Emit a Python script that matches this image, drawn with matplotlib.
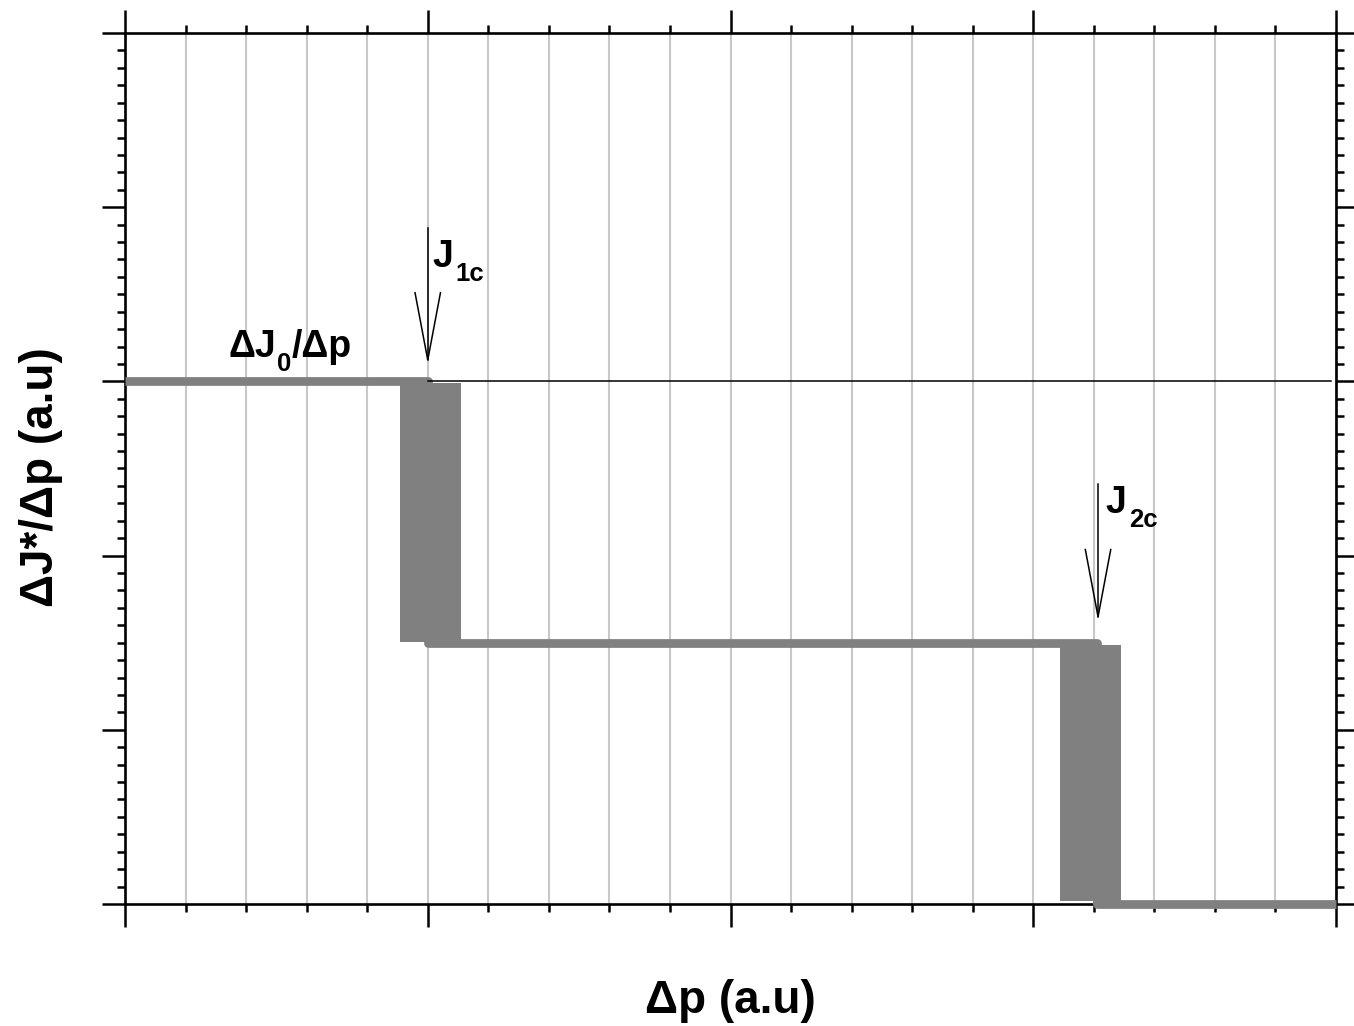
import matplotlib
matplotlib.use("Agg")
import matplotlib.pyplot as plt
from matplotlib.ticker import MultipleLocator
from matplotlib.patches import Rectangle

plt.rcParams['font.family'] = ['Liberation Sans', 'DejaVu Sans']

# ---- data ----
step_x = [0.0, 1.0, 1.0, 3.21, 3.21, 4.0]
step_y = [3.0, 3.0, 1.5, 1.5, 0.0, 0.0]
# transition bands (x0, x1, y0, y1)
band1 = (0.908, 1.110, 1.506, 2.989)
band2 = (3.088, 3.290, 0.02, 1.487)
ref_level = 3.0
ref_x = (1.0, 3.985)
# critical points: x, arrow top, arrow tip
j1c = (1.0, 3.88, 3.123)
j2c = (3.214, 2.411, 1.649)
xlim = (0, 4)
ylim = (0, 5)

gray = '#808080'
W, H = 1354, 1026

fig = plt.figure(figsize=(13.54, 10.26), dpi=100)
ax = fig.add_axes([125/W, 1-904/H, (1336-125)/W, (904-33)/H])
ax.set_xlim(*xlim)
ax.set_ylim(*ylim)

ax.xaxis.set_major_locator(MultipleLocator(1))
ax.xaxis.set_minor_locator(MultipleLocator(0.2))
ax.yaxis.set_major_locator(MultipleLocator(1))
ax.yaxis.set_minor_locator(MultipleLocator(0.1))
ax.tick_params(which='major', direction='out', length=16.5, width=1.8,
               top=True, right=True, labelbottom=False, labelleft=False)
ax.tick_params(which='minor', direction='out', length=5.5, width=1.8,
               top=True, right=True)
for s in ax.spines.values():
    s.set_linewidth(1.9)
ax.set_axisbelow(True)
ax.grid(True, axis='x', which='both', color='#c8c8c8', linewidth=1.5)

# bands
for (x0, x1, y0, y1) in (band1, band2):
    ax.add_patch(Rectangle((x0, y0), x1 - x0, y1 - y0, facecolor=gray,
                           edgecolor='none', zorder=2))

# step curve
ax.plot(step_x, step_y, color=gray, linewidth=6.3, solid_joinstyle='round',
        solid_capstyle='butt', zorder=3, clip_on=False)

# reference line
ax.plot(ref_x, [ref_level, ref_level], color='black', linewidth=1.1, zorder=4)

# arrows
hx = 0.042
hy = 0.386
for (xa, ytop, ytip) in (j1c, j2c):
    ax.plot([xa, xa], [ytop, ytip], color='black', linewidth=1.1, zorder=5)
    ax.plot([xa - hx, xa, xa + hx], [ytip + hy, ytip, ytip + hy],
            color='black', linewidth=1.1, zorder=5, solid_joinstyle='miter')

renderer = fig.canvas.get_renderer()


def rich_text(xd, yd, pieces):
    """pieces: (text, fontsize, baseline shift in px, gap before in px)"""
    px, py = ax.transData.transform((xd, yd))
    for s, fs, dy, gap in pieces:
        px += gap
        t = fig.text(px / W, (py - dy) / H, s, fontsize=fs, fontweight='bold',
                     ha='left', va='baseline')
        bb = t.get_window_extent(renderer)
        px = bb.x1


main_fs, sub_fs, sub_dy = 27, 18.5, 14
rich_text(1.014, 3.658, [('J', main_fs, 0, 0), ('1c', sub_fs, sub_dy, 3)])
rich_text(3.237, 2.242, [('J', main_fs, 0, 0), ('2c', sub_fs, sub_dy, 3)])
rich_text(0.341, 3.141, [('ΔJ', main_fs, 0, 0), ('0', sub_fs, sub_dy, 1),
                         ('/Δp', main_fs, 0, 0)])

fig.text(730/W, 1-1013/H, 'Δp (a.u)', fontsize=33, fontweight='bold',
         ha='center', va='baseline')
fig.text(41/W, 1-477/H, 'ΔJ*/Δp (a.u)', fontsize=33, fontweight='bold',
         ha='center', va='center', rotation=90)

fig.savefig('out.png', dpi=100)
